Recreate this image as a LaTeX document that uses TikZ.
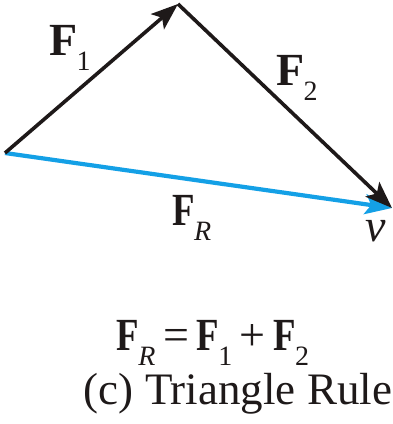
\documentclass[tikz,border=0pt]{standalone}
\usepackage{fontspec}
\setmainfont{Liberation Serif}
\usetikzlibrary{arrows.meta}
\definecolor{fblue}{RGB}{20,160,230}
\definecolor{ink}{RGB}{30,25,25}
\tikzset{
  vec/.style={line width=3.6pt, -{Stealth[length=27pt,width=20pt,inset=6pt]}},
  lbl/.style={inner sep=0pt, text=ink, font=\fontsize{46}{50}\selectfont},
}
\newcommand{\Fb}{\textbf{F}}
\newcommand{\sub}[1]{\raisebox{-0.7ex}{\fontsize{28}{28}\selectfont #1}}
\newcommand{\Fn}{\scalebox{0.8}[1]{\Fb}}
\begin{document}
\begin{tikzpicture}[x=1pt,y=-1pt]
\useasboundingbox (0,0) rectangle (393,424);
\coordinate (A) at (5,153);
\coordinate (B) at (178,4);
\coordinate (C) at (392,208);
\draw[vec, draw=fblue, fill=fblue, line width=4.2pt] (A) -- (C);
\draw[vec, draw=ink, fill=ink] (A) -- (B);
\draw[vec, draw=ink, fill=ink] (B) -- (C);
\node[lbl] (f1) at (70,48) {\Fb\kern-1pt\sub{1}};
\node[lbl] (f2) at (297,78) {\Fb\kern-1pt\sub{2}};
\node[lbl] (fr) at (192,218) {\Fn\kern-1pt\sub{\itshape R}};
\node[lbl] (v) at (376,231) {\itshape v};
\node[lbl] (eq) at (213,343) {\Fn\kern-1pt\sub{\itshape R}\,=\,\Fn\kern-1pt\sub{1}\,+\,\Fn\kern-1pt\sub{2}};
\node[lbl, font=\fontsize{45}{48}\selectfont] (cap) at (238,394) {(c) Triangle Rule};
\end{tikzpicture}
\end{document}
